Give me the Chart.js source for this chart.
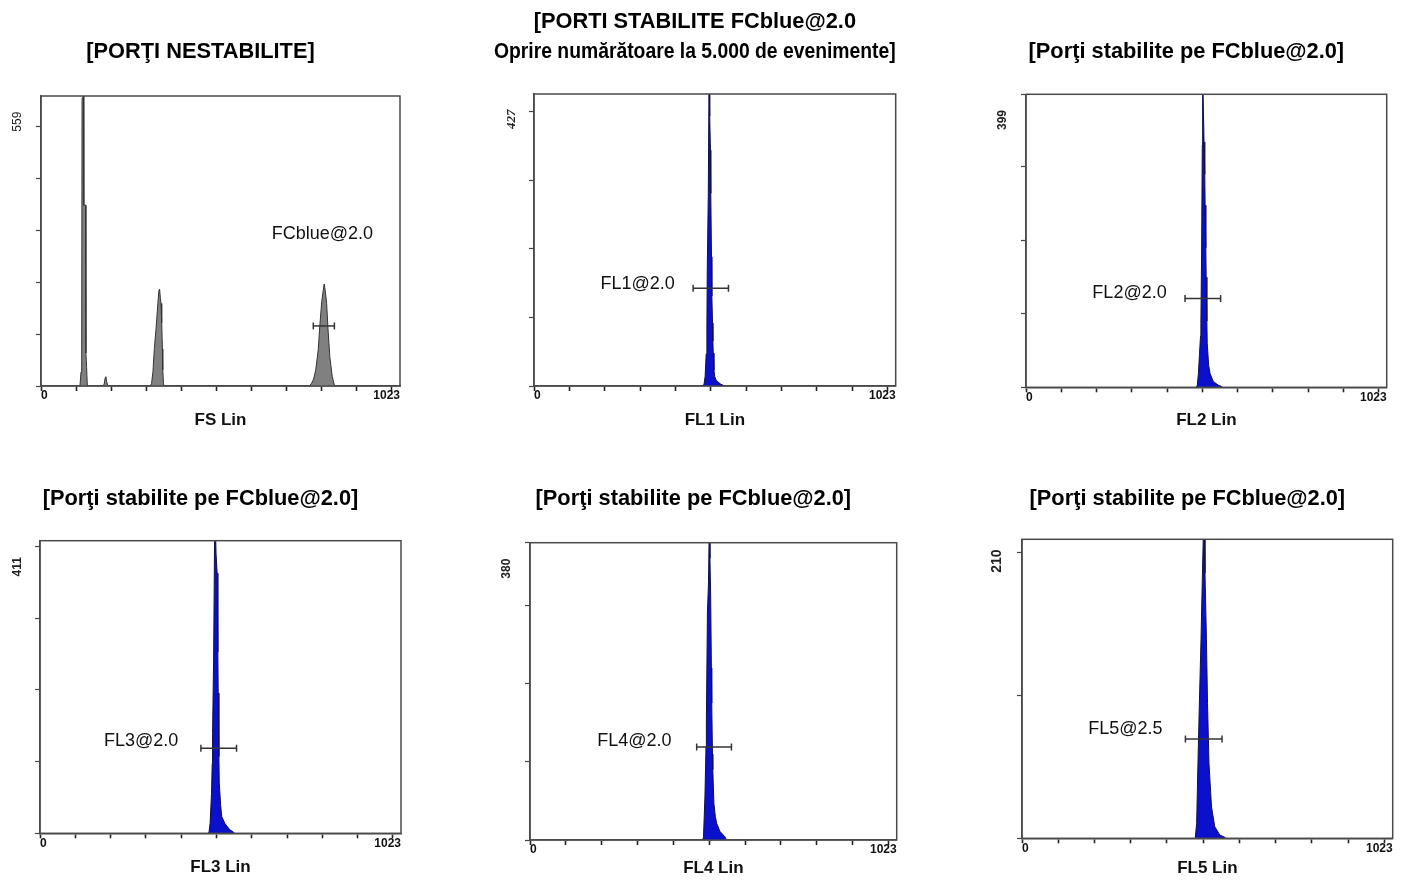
<!DOCTYPE html>
<html><head><meta charset="utf-8">
<script src="https://cdn.jsdelivr.net/npm/chart.js@4.4.1/dist/chart.umd.min.js"></script>
<style>
html,body{margin:0;padding:0;background:#fff;width:1407px;height:880px;overflow:hidden;position:relative}
canvas{position:absolute}
</style></head><body>
<script>
// ---------------- DATA ----------------
const panelTitles = [
  ["[PORŢI NESTABILITE]"],
  ["[PORTI STABILITE FCblue@2.0", "Oprire numărătoare la 5.000 de evenimente]"],
  ["[Porţi stabilite pe FCblue@2.0]"],
  ["[Porţi stabilite pe FCblue@2.0]"],
  ["[Porţi stabilite pe FCblue@2.0]"],
  ["[Porţi stabilite pe FCblue@2.0]"]
];
const axisTitles = ["FS Lin", "FL1 Lin", "FL2 Lin", "FL3 Lin", "FL4 Lin", "FL5 Lin"];
const gateNames = ["FCblue@2.0", "FL1@2.0", "FL2@2.0", "FL3@2.0", "FL4@2.0", "FL5@2.5"];

const xTickValues = [0, 100, 200, 300, 400, 500, 600, 700, 800, 900, 1000, 1023];
const xTickLabels = ["0", "1023"];
const xMin = 0, xMax = 1023;

const yMaxValues = [625.2, 454.5, 399, 419.6, 380, 219.9];
const yTickLists = [
  [0, 111.8, 223.6, 335.4, 447.2, 559],
  [0, 106.75, 213.5, 320.25, 427],
  [0, 100, 200, 300, 399],
  [0, 102.75, 205.5, 308.25, 411],
  [0, 100, 200, 300, 380],
  [0, 105, 210]
];
const yTopLabels = [559, 427, 399, 411, 380, 210];

const gateStart = [776, 450, 451, 456, 465, 451];
const gateEnd   = [836, 550, 552, 557, 562, 552];
const gateLevel = [129.5, 152, 121, 122, 119, 73];

// histograms: channel / count
const fsChannels = [111,114,116,117,119,121,122,127,128,130,132, 175,180,183,185,187,190,193,
  311,315,319,323,328,333,336,338,340,342,344,346,347,349,351,
  765,771,777,783,790,795,800,804,807,810,814,818,823,830,836,838];
const fsCounts = [0,30,106,620,700,700,390,390,71,40,0, 0,4,18,20,10,2,0,
  0,5,31,81,125,178,205,209,190,178,136,80,35,5,0,
  0,6,15,35,78,135,182,205,220,205,178,121,63,20,2,0];

const fl1Channels = [478,481,484,487,489,490,493,495,497,499,500,502,503,505,506,507,509,511,516,521,528,535,537];
const fl1Counts   = [0,3,15,50,90,180,300,480,420,367,300,201,140,98,70,51,25,15,8,6,3,1,0];

const fl2Channels = [483,486,489,492,495,496,498,500,501,503,505,507,508,510,511,513,514,518,522,531,545,555,558];
const fl2Counts   = [0,3,19,45,70,87,180,330,430,380,334,290,248,190,150,90,60,30,19,8,3,1,0];

const fl3Channels = [477,479,482,486,488,489,492,495,497,499,502,504,505,507,508,512,515,524,538,548,551];
const fl3Counts   = [0,2,14,57,100,143,250,440,440,400,373,260,201,110,72,40,24,14,5,2,0];

const fl4Channels = [482,484,488,491,492,495,498,500,502,504,506,507,509,510,513,517,521,530,544,548];
const fl4Counts   = [0,4,55,120,150,290,330,400,360,313,220,175,110,90,47,30,21,11,4,0];

const fl5Channels = [478,482,485,489,494,498,501,503,505,509,512,516,523,532,546,560,562];
const fl5Counts   = [0,11,48,94,146,195,230,230,195,146,99,55,23,8.5,2.4,0.7,0];

const histChannels = [fsChannels, fl1Channels, fl2Channels, fl3Channels, fl4Channels, fl5Channels];
const histCounts   = [fsCounts, fl1Counts, fl2Counts, fl3Counts, fl4Counts, fl5Counts];

// ---------------- LAYOUT / STYLE ----------------
const SANS = "'Liberation Sans', Arial, sans-serif";
const panels = [
  {L:40.7, T:96,    R:400,    B:386,   top:0,   cx:207,    titleY:52,  titleLH:26, xTitleY:420,   yOff:-5,   yFont:{family:SANS,size:12,weight:'normal'}, gateLbl:[946,328], fill:'#808080', line:'#333333'},
  {L:534.3, T:94,   R:895.7,  B:386,   top:0,   cx:700,    titleY:22,  titleLH:30, xTitleY:420,   yOff:7.5,  yFont:{family:"'Liberation Serif', serif",size:13,weight:'bold',style:'italic'}, gateLbl:[398,159], fill:'#0a10cc', line:'#10104a'},
  {L:1026, T:94.3,  R:1386.7, B:387.3, top:0,   cx:1192.5, titleY:52,  titleLH:26, xTitleY:420.7, yOff:25.7, yFont:{family:SANS,size:12,weight:'bold'}, gateLbl:[399,128], fill:'#0a10cc', line:'#10104a'},
  {L:40,   T:540.7, R:401,    B:833.3, top:440, cx:207.5,  titleY:499, titleLH:26, xTitleY:867.3, yOff:20,   yFont:{family:SANS,size:12,weight:'bold'}, gateLbl:[392,132], fill:'#0a10cc', line:'#10104a'},
  {L:530,  T:542.7, R:896.7,  B:840,   top:440, cx:700,    titleY:499, titleLH:26, xTitleY:868.3, yOff:26,   yFont:{family:SANS,size:12,weight:'bold'}, gateLbl:[395,127], fill:'#0a10cc', line:'#10104a'},
  {L:1022.3,T:539.3,R:1392.7, B:838.3, top:440, cx:1192.5, titleY:499, titleLH:26, xTitleY:868.3, yOff:8.3,  yFont:{family:SANS,size:14,weight:'bold'}, gateLbl:[388,80], fill:'#0a10cc', line:'#10104a'}
];
const AXIS_COLOR = '#4a4a4a';
const TITLE_SIZE = 21.8;

const boxPlugin = {
  id: 'boxAndGateLabel',
  afterDatasetsDraw(chart) {
    const {ctx, chartArea: a} = chart;
    const i = chart.options.panelIndex;
    ctx.save();
    ctx.strokeStyle = AXIS_COLOR;
    ctx.lineWidth = 1.5;
    ctx.strokeRect(a.left, a.top, a.right - a.left, a.bottom - a.top);
    const p = panels[i];
    const xs = chart.scales.x, ys = chart.scales.y;
    ctx.fillStyle = '#111';
    ctx.font = "18px " + SANS;
    ctx.textAlign = 'right';
    ctx.textBaseline = 'middle';
    ctx.fillText(gateNames[i], xs.getPixelForValue(p.gateLbl[0]), ys.getPixelForValue(p.gateLbl[1]));
    ctx.restore();
  }
};

function makePanel(i) {
  const p = panels[i];
  const Lr = Math.round(p.L);
  const left = Lr - 40;
  const width = Math.round(2 * (p.cx - left));
  const height = Math.round(p.B - p.top + 50);
  const cv = document.createElement('canvas');
  cv.width = width; cv.height = height;
  cv.style.left = left + 'px'; cv.style.top = p.top + 'px';
  cv.style.width = width + 'px'; cv.style.height = height + 'px';
  document.body.appendChild(cv);

  const rp = width - (p.R - left);
  const xH = height - (p.B - p.top);
  const nLines = panelTitles[i].length;
  const tPadTop = p.titleY - p.top - p.titleLH / 2;
  const tPadBottom = (p.T - p.top) - tPadTop - nLines * p.titleLH;
  const xTitleLH = 20.4;
  const xTitlePadB = height - (p.xTitleY - p.top) - xTitleLH / 2;

  const hist = histChannels[i].map((c, k) => ({x: c, y: histCounts[i][k]}));
  const gate = [{x: gateStart[i], y: gateLevel[i]}, {x: gateEnd[i], y: gateLevel[i]}];
  const topVal = yTopLabels[i];

  new Chart(cv, {
    type: 'line',
    data: {
      datasets: [
        {
          data: gate, borderColor: '#333', borderWidth: 1.5, fill: false,
          pointStyle: 'line', pointRotation: 90, pointRadius: 3.5,
          pointBorderColor: '#333', pointBorderWidth: 1.5, pointBackgroundColor: '#333'
        },
        {
          data: hist, borderColor: p.line, borderWidth: 1, backgroundColor: p.fill,
          fill: 'origin', pointRadius: 0, tension: 0, borderJoinStyle: 'miter'
        }
      ]
    },
    options: {
      panelIndex: i,
      responsive: false, animation: false, devicePixelRatio: 1,
      layout: {padding: {left: 0, right: rp, top: 0, bottom: 0}},
      plugins: {
        legend: {display: false}, tooltip: {enabled: false},
        title: {
          display: true, text: panelTitles[i], color: '#000', fullSize: true,
          font: {family: SANS, size: TITLE_SIZE, weight: 'bold', lineHeight: p.titleLH / TITLE_SIZE},
          padding: {top: tPadTop, bottom: tPadBottom}
        }
      },
      scales: {
        x: {
          type: 'linear', min: xMin, max: xMax,
          afterBuildTicks: s => { s.ticks = xTickValues.map(v => ({value: v})); },
          afterFit: s => { s.height = xH; },
          border: {display: true, color: AXIS_COLOR, width: 1.5},
          grid: {drawOnChartArea: false, drawTicks: true, tickLength: 5, tickWidth: 1.6,
                 tickColor: c => (c.tick && c.tick.value === xMax) ? 'rgba(0,0,0,0)' : '#222'},
          ticks: {
            autoSkip: false, maxRotation: 0, minRotation: 0, align: 'inner', padding: -1,
            color: '#111', font: {family: SANS, size: 12, weight: 'bold', lineHeight: 1},
            callback: v => v === xMin ? xTickLabels[0] : (v === xMax ? xTickLabels[1] : '')
          },
          title: {
            display: true, text: axisTitles[i], color: '#111',
            font: {family: SANS, size: 17, weight: 'bold', lineHeight: 1.2},
            padding: {top: 0, bottom: xTitlePadB}
          }
        },
        y: {
          type: 'linear', min: 0, max: yMaxValues[i],
          afterBuildTicks: s => { s.ticks = yTickLists[i].map(v => ({value: v})); },
          afterFit: s => { s.width = 40; },
          border: {display: true, color: AXIS_COLOR, width: 1.5},
          grid: {drawOnChartArea: false, drawTicks: true, tickLength: 5, tickWidth: 1.2, tickColor: '#444'},
          ticks: {
            autoSkip: false, minRotation: 90, maxRotation: 90, crossAlign: 'center',
            padding: 8, labelOffset: p.yOff, color: '#222', font: p.yFont,
            callback: v => v === topVal ? String(topVal) : ''
          }
        }
      }
    },
    plugins: [boxPlugin]
  });
}
for (let i = 0; i < panels.length; i++) makePanel(i);
</script>
</body></html>
